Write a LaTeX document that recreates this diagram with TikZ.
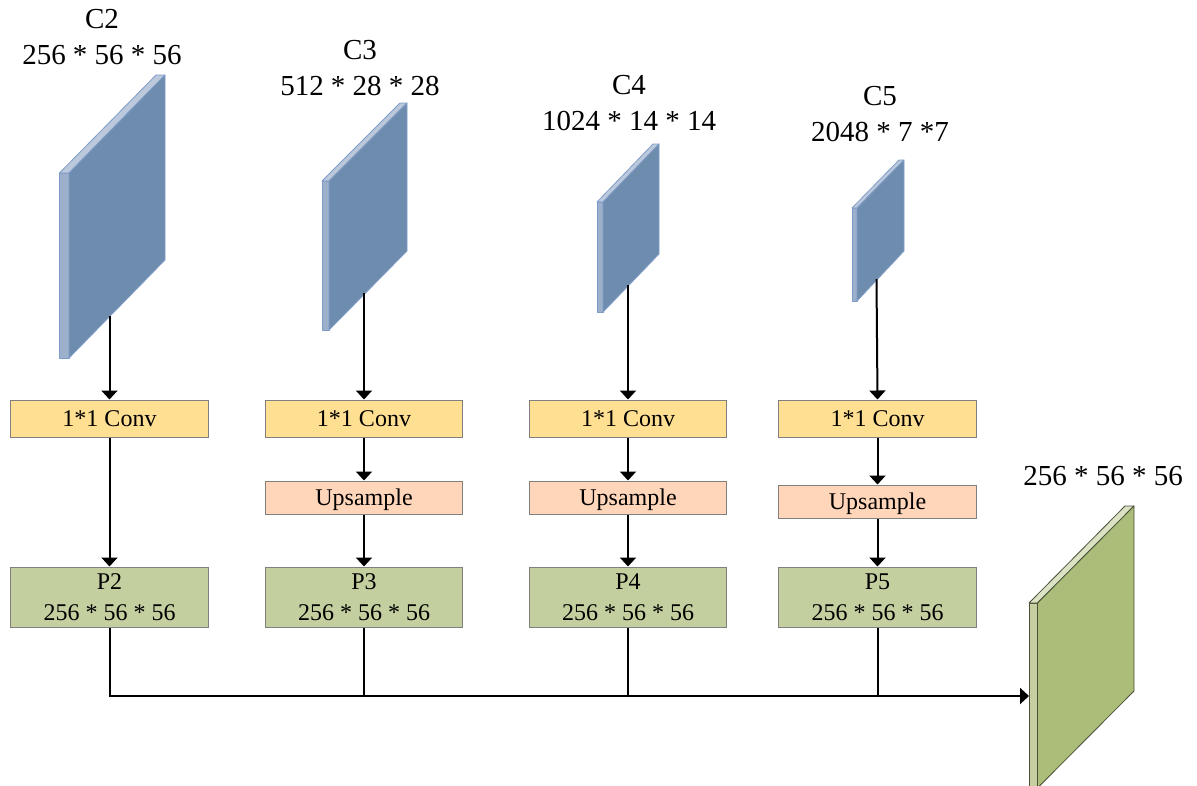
\documentclass[tikz,border=0pt]{standalone}
\usepackage{fontspec}
\setmainfont{Liberation Serif}
\usetikzlibrary{arrows.meta}
\definecolor{bfront}{HTML}{6E8DAE}
\definecolor{bside}{HTML}{9DB0CB}
\definecolor{btop}{HTML}{BCC9DC}
\definecolor{bedge}{HTML}{7F9CC8}
\definecolor{gfront}{HTML}{ABBD79}
\definecolor{gside}{HTML}{C5CFA0}
\definecolor{gtop}{HTML}{DCE2C4}
\definecolor{gedge}{HTML}{4A5038}
\definecolor{convcol}{HTML}{FFDF92}
\definecolor{upcol}{HTML}{FFD6B9}
\definecolor{pcol}{HTML}{C4CFA0}
\tikzset{
  x=1pt,y=-1pt,
  boxbase/.style={draw=black!50,line width=1pt,inner sep=0pt,font=\fontsize{24}{31}\selectfont,align=center,minimum width=197.5pt},
  convbox/.style={boxbase,fill=convcol,minimum height=37pt},
  upbox/.style={boxbase,fill=upcol,minimum height=33pt,text depth=0pt},
  pbox/.style={boxbase,fill=pcol,minimum height=60pt},
  title/.style={inner sep=0pt,font=\fontsize{29}{36}\selectfont,align=center,anchor=center},
  arr/.style={line width=2pt,-{Triangle[length=9pt,width=16pt]}},
  line/.style={line width=2pt},
  bfaceS/.style={fill=bside,draw=bedge,line width=.8pt,line join=round},
  bfaceT/.style={fill=btop,draw=bedge,line width=.8pt,line join=round},
  bfaceF/.style={fill=bfront,draw=bedge,line width=.8pt,line join=round},
  gfaceS/.style={fill=gside,draw=gedge,line width=.8pt,line join=round},
  gfaceT/.style={fill=gtop,draw=gedge,line width=.8pt,line join=round},
  gfaceF/.style={fill=gfront,draw=gedge,line width=.8pt,line join=round},
}
\newcommand{\slab}[9]{% x0 x1 x2 xback ytop ybot ybacktop ybackbot prefix
  \draw[#9faceS] (#1,#5) rectangle (#2,#6);
  \draw[#9faceT] (#1,#5) -- (#3,#7) -- (#4,#7) -- (#2,#5) -- cycle;
  \draw[#9faceF] (#2,#5) -- (#4,#7) -- (#4,#8) -- (#2,#6) -- cycle;
}
\begin{document}
\begin{tikzpicture}
\useasboundingbox (0,0) rectangle (1197,785);
\begin{scope}
\clip (0,0) rectangle (1197,785);
\slab{59.5}{69}{156}{165}{173}{358}{75}{260}{b}
\slab{322}{329}{400}{407}{181}{330}{103}{251}{b}
\slab{597}{603}{653}{659}{202}{312}{144}{254}{b}
\slab{852}{857}{899}{904}{208}{301}{160}{251}{b}
\slab{1029}{1037.5}{1125}{1134}{603}{788}{506}{691}{g}
\draw[gfaceS] (1029,788) -- (1029,800);
\draw[gfaceS] (1037.5,788) -- (1037.5,800);
\end{scope}

\coordinate (c2out) at (109.5,316);
\coordinate (c3out) at (364,293);
\coordinate (c4out) at (628,285);
\coordinate (c5out) at (876.5,279);
\coordinate (bus) at (0,696);
\coordinate (gin) at (1029,696);

\node[title] (t2) at (102,37) {C2\\256 * 56 * 56};
\node[title] (t3) at (360,68) {C3\\512 * 28 * 28};
\node[title] (t4) at (629,103) {C4\\1024 * 14 * 14};
\node[title] (t5) at (880,114.5) {C5\\2048 * 7 *7};
\node[title] (t6) at (1103,476) {256 * 56 * 56};

\node[convbox] (conv2) at (109.5,418.5) {1*1 Conv};
\node[convbox] (conv3) at (364,418.5) {1*1 Conv};
\node[convbox] (conv4) at (628,418.5) {1*1 Conv};
\node[convbox] (conv5) at (877.5,418.5) {1*1 Conv};

\node[upbox] (up3) at (364,497.5) {Upsample};
\node[upbox] (up4) at (628,497.5) {Upsample};
\node[upbox] (up5) at (877.5,501.5) {Upsample};

\node[pbox] (p2) at (109.5,597) {P2\\256 * 56 * 56};
\node[pbox] (p3) at (364,597) {P3\\256 * 56 * 56};
\node[pbox] (p4) at (628,597) {P4\\256 * 56 * 56};
\node[pbox] (p5) at (877.5,597) {P5\\256 * 56 * 56};

\draw[arr] (c2out) -- (conv2.north);
\draw[arr] (c3out) -- (conv3.north);
\draw[arr] (c4out) -- (conv4.north);
\draw[arr] (c5out) -- (conv5.north);
\draw[arr] (conv2) -- (p2);
\draw[arr] (conv3) -- (up3);
\draw[arr] (conv4) -- (up4);
\draw[arr] (conv5) -- (up5);
\draw[arr] (up3) -- (p3);
\draw[arr] (up4) -- (p4);
\draw[arr] (up5) -- (p5);
\draw[line] (p3.south) -- (p3.south |- bus);
\draw[line] (p4.south) -- (p4.south |- bus);
\draw[line] (p5.south) -- (p5.south |- bus);
\draw[arr] (p2.south) -- (p2.south |- bus) -- (gin);
\end{tikzpicture}
\end{document}
